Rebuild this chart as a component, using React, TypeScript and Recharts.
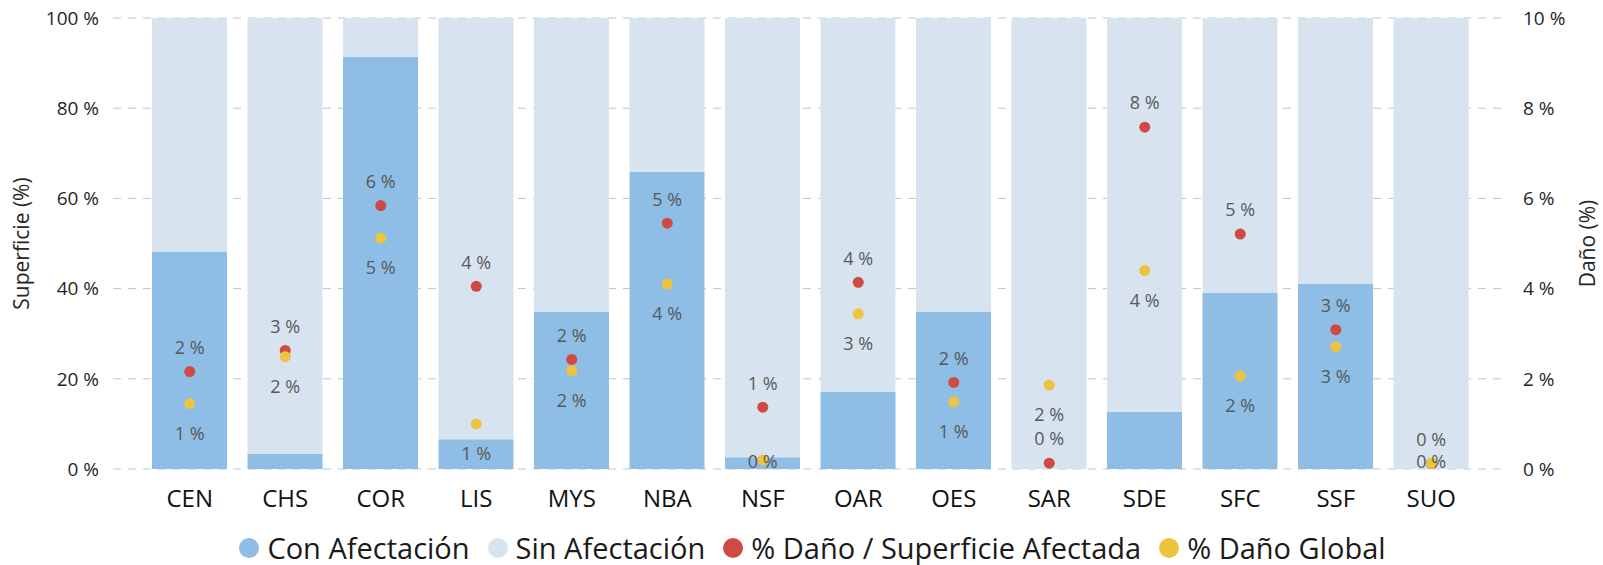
import { Bar, CartesianGrid, ComposedChart, Legend, Scatter, XAxis, YAxis } from 'recharts';

const CATEGORIES = ['CEN', 'CHS', 'COR', 'LIS', 'MYS', 'NBA', 'NSF', 'OAR', 'OES', 'SAR', 'SDE', 'SFC', 'SSF', 'SUO'];
// % superficie con afectación (el resto es sin afectación)
const CON_AFECTACION = [48.2, 3.3, 91.4, 6.6, 34.8, 65.9, 2.6, 17.1, 34.9, 0, 12.7, 39.0, 41.0, 0];
// % daño sobre superficie afectada (eje derecho)
const DANO_SUPERFICIE = [2.16, 2.63, 5.84, 4.05, 2.43, 5.45, 1.37, 4.14, 1.92, 0.13, 7.58, 5.21, 3.09, 0.12];
// % daño global (eje derecho)
const DANO_GLOBAL = [1.45, 2.49, 5.12, 1.0, 2.18, 4.1, 0.2, 3.44, 1.49, 1.86, 4.4, 2.06, 2.71, 0.13];
const LEFT_TICKS = [0, 20, 40, 60, 80, 100];
const RIGHT_TICKS = [0, 2, 4, 6, 8, 10];
const LEGEND_ORDER = ['Con Afectación', 'Sin Afectación', '% Daño / Superficie Afectada', '% Daño Global'];

const data = CATEGORIES.map((name, i) => ({
  name,
  con: CON_AFECTACION[i],
  sin: +(100 - CON_AFECTACION[i]).toFixed(1),
  danoSup: DANO_SUPERFICIE[i],
  danoGlobal: DANO_GLOBAL[i],
}));

const FONT = '"Open Sans", sans-serif';
const BLUE = '#8EBDE6';
const LIGHT = '#D7E4F0';
const RED = '#CF4A42';
const YELLOW = '#ECC43F';
const LABEL_MAX_Y = 462;

const pointShape = (color: string, key: string, below: boolean) => (props: any) => {
  const { cx, cy, payload } = props;
  if (cx == null || cy == null) return <g />;
  const v = payload[key];
  let ty = below ? cy + 30 : cy - 24;
  if (ty > LABEL_MAX_Y) ty = LABEL_MAX_Y;
  return (
    <g>
      <circle cx={cx} cy={cy} r={5.5} fill={color} />
      <text
        x={cx}
        y={ty}
        dy='0.35em'
        textAnchor='middle'
        fontFamily={FONT}
        fontSize={18}
        fill='#595959'
      >
        {`${Math.round(v)} %`}
      </text>
    </g>
  );
};

const renderLegend = (props: any) => {
  const items = [...(props.payload || [])].sort(
    (a: any, b: any) => LEGEND_ORDER.indexOf(a.value) - LEGEND_ORDER.indexOf(b.value),
  );
  return (
    <div
      style={{
        height: 56,
        display: 'flex',
        justifyContent: 'center',
        alignItems: 'flex-end',
        fontFamily: FONT,
        fontSize: 29,
        lineHeight: '34px',
        color: '#1a1a1a',
        paddingLeft: 40,
        boxSizing: 'border-box',
      }}
    >
      {items.map((item: any, idx: number) => (
        <div key={idx} style={{ display: 'flex', alignItems: 'center', marginRight: 18 }}>
          <span
            style={{
              display: 'inline-block',
              width: 20,
              height: 20,
              borderRadius: '50%',
              backgroundColor: item.color,
              marginRight: 8,
            }}
          />
          <span>{item.value}</span>
        </div>
      ))}
    </div>
  );
};

export default function App() {
  return (
    <div style={{ position: 'absolute', left: 0, top: 0, background: '#fff' }}>
      <ComposedChart
        width={1603}
        height={565}
        data={data}
        margin={{ top: 18, right: 0, bottom: 0, left: 0 }}
      >
        <CartesianGrid
          vertical={false}
          stroke='#C4C4C4'
          strokeDasharray='8 7'
          yAxisId='left'
        />
        <XAxis
          dataKey='name'
          axisLine={false}
          tickLine={false}
          tickSize={0}
          tickMargin={21}
          height={40}
          padding={{ left: 29, right: 29 }}
          tick={{ fontFamily: FONT, fontSize: 24, fill: '#111' }}
        />
        <YAxis
          yAxisId='left'
          domain={[0, 100]}
          ticks={LEFT_TICKS}
          width={113}
          axisLine={false}
          tickLine={false}
          tickSize={0}
          tickMargin={14}
          tickFormatter={(v: number) => `${v} %`}
          tick={{ fontFamily: FONT, fontSize: 19, fill: '#262626' }}
          label={{
            value: 'Superficie (%)',
            angle: -90,
            position: 'insideLeft',
            offset: 22,
            style: { textAnchor: 'middle', fontFamily: FONT, fontSize: 21, fill: '#262626' },
          }}
        />
        <YAxis
          yAxisId='right'
          orientation='right'
          domain={[0, 10]}
          ticks={RIGHT_TICKS}
          width={95}
          axisLine={false}
          tickLine={false}
          tickSize={0}
          tickMargin={15}
          tickFormatter={(v: number) => `${v} %`}
          tick={{ fontFamily: FONT, fontSize: 19, fill: '#262626', textAnchor: 'start' }}
          label={{
            value: 'Daño (%)',
            angle: -90,
            position: 'insideRight',
            offset: 15,
            style: { textAnchor: 'middle', fontFamily: FONT, fontSize: 21, fill: '#262626' },
          }}
        />
        <Bar
          yAxisId='left'
          dataKey='con'
          name='Con Afectación'
          stackId='sup'
          fill={BLUE}
          barSize={75}
          isAnimationActive={false}
        />
        <Bar
          yAxisId='left'
          dataKey='sin'
          name='Sin Afectación'
          stackId='sup'
          fill={LIGHT}
          barSize={75}
          isAnimationActive={false}
        />
        <Scatter
          yAxisId='right'
          dataKey='danoSup'
          name='% Daño / Superficie Afectada'
          fill={RED}
          shape={pointShape(RED, 'danoSup', false)}
          isAnimationActive={false}
        />
        <Scatter
          yAxisId='right'
          dataKey='danoGlobal'
          name='% Daño Global'
          fill={YELLOW}
          shape={pointShape(YELLOW, 'danoGlobal', true)}
          isAnimationActive={false}
        />
        <Legend verticalAlign='bottom' content={renderLegend} />
      </ComposedChart>
    </div>
  );
}
